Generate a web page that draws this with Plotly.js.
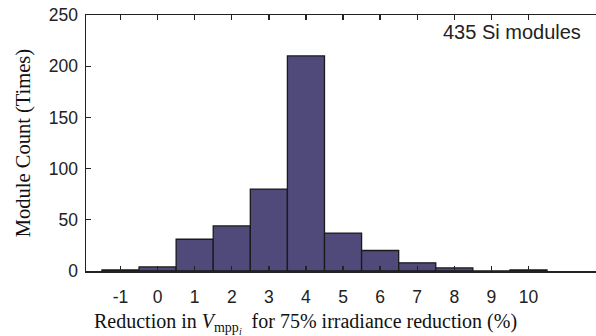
<!DOCTYPE html>
<html>
<head>
<meta charset="utf-8">
<script src="https://cdn.plot.ly/plotly-3.0.1.min.js"></script>
<style>html,body{margin:0;padding:0;background:#fff;}#chart{width:596px;height:336px;}</style>
</head>
<body>
<div id="chart"></div>
<script>
const categories = [-1, 0, 1, 2, 3, 4, 5, 6, 7, 8, 9, 10];
const counts = [1, 4, 31, 44, 80, 210, 37, 20, 8, 3, 0, 1];
const yTicks = [0, 50, 100, 150, 200, 250];
const xTicks = [-1, 0, 1, 2, 3, 4, 5, 6, 7, 8, 9, 10];
const annotationText = '435 Si modules';
const xTitle = 'Reduction in <i>V</i><sub>mpp<sub><i>i</i></sub></sub>  for 75% irradiance reduction (%)';
const yTitle = 'Module Count (Times)';

const trace = {
  type: 'bar',
  x: categories,
  y: counts,
  width: 1,
  marker: {color: '#4f4a7a', line: {color: '#1a1a1a', width: 1.3}},
  hoverinfo: 'skip'
};

const tickFont = {family: 'Liberation Sans, Arial, sans-serif', size: 17.5, color: '#222'};
const serif = 'Liberation Serif, Times New Roman, serif';

const layout = {
  width: 596, height: 336,
  margin: {l: 86, r: 0, t: 15, b: 65},
  paper_bgcolor: '#fff', plot_bgcolor: '#fff',
  showlegend: false,
  bargap: 0,
  font: tickFont,
  xaxis: {
    range: [-1.93, 11.82],
    tickmode: 'array', tickvals: xTicks, ticktext: xTicks.map(String),
    ticks: 'inside', ticklen: 5, tickwidth: 1.3, tickcolor: '#222',
    ticklabelstandoff: 9,
    showline: true, linecolor: '#222', linewidth: 1.5, mirror: 'ticks',
    showgrid: false, zeroline: false,
    tickfont: tickFont
  },
  yaxis: {
    range: [0, 250],
    tickmode: 'array', tickvals: yTicks, ticktext: yTicks.map(String),
    ticks: 'inside', ticklen: 5, tickwidth: 1.3, tickcolor: '#222',
    ticklabelstandoff: 3,
    showline: true, linecolor: '#222', linewidth: 1.5,
    showgrid: false, zeroline: false,
    tickfont: tickFont,
    title: {text: yTitle, font: {family: serif, size: 20.5, color: '#111'}, standoff: 12}
  },
  annotations: [{
    text: annotationText, xref: 'paper', yref: 'paper', x: 0.9745, y: 0.934,
    xanchor: 'right', yanchor: 'middle', showarrow: false,
    font: {family: 'Liberation Sans, Arial, sans-serif', size: 20, color: '#222'}
  }, {
    text: xTitle, xref: 'paper', yref: 'paper', x: 0.431, y: -0.207,
    xanchor: 'center', yanchor: 'middle', showarrow: false,
    font: {family: serif, size: 20, color: '#111'}
  }]
};

Plotly.newPlot('chart', [trace], layout, {staticPlot: true, displayModeBar: false});
</script>
</body>
</html>
